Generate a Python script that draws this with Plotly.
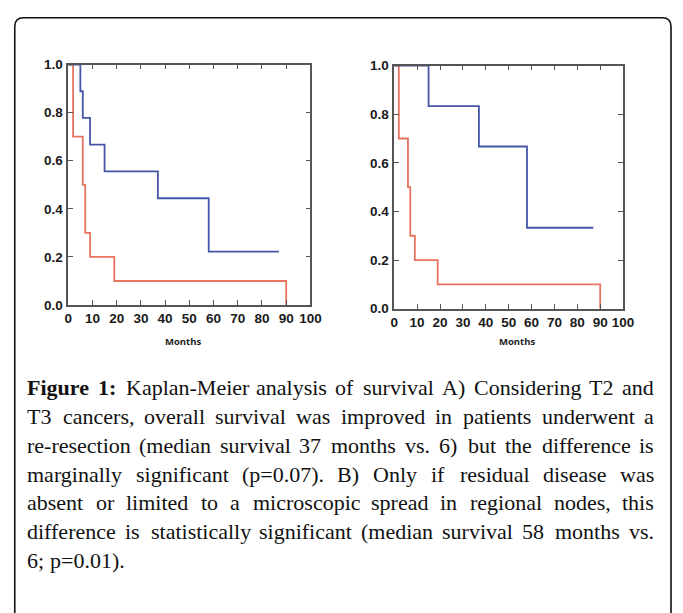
import plotly.graph_objects as go

W, H = 683, 613

# ---------------- data ----------------
months_ticks = [0, 10, 20, 30, 40, 50, 60, 70, 80, 90, 100]
surv_ticks = [0.0, 0.2, 0.4, 0.6, 0.8, 1.0]

# Panel A
a_blue_t = [0, 5, 6, 9, 15, 37, 58, 87]
a_blue_s = [1.0, 0.889, 0.778, 0.667, 0.556, 0.444, 0.222, 0.222]
a_red_t = [0, 2, 6, 7, 9, 19, 90]
a_red_s = [1.0, 0.7, 0.5, 0.3, 0.2, 0.1, 0.0]

# Panel B
b_blue_t = [0, 15, 37, 58, 87]
b_blue_s = [1.0, 0.833, 0.667, 0.333, 0.333]
b_red_t = [0, 2, 6, 7, 9, 19, 90]
b_red_s = [1.0, 0.7, 0.5, 0.3, 0.2, 0.1, 0.0]

x_title = "Months"

caption_lines = [
    "<b>Figure</b> <b>1:</b> Kaplan-Meier analysis of survival A) Considering T2 and",
    "T3 cancers, overall survival was improved in patients underwent a",
    "re-resection (median survival 37 months vs. 6) but the difference is",
    "marginally significant (p=0.07). B) Only if residual disease was",
    "absent or limited to a microscopic spread in regional nodes, this",
    "difference is statistically significant (median survival 58 months vs.",
    "6; p=0.01).",
]

BLUE = "#4656a6"
RED = "#e8735f"
AXC = "#555555"

fig = go.Figure()

def px_x(p):
    return p / W

def px_y(p):
    return 1 - p / H

# panel geometry (pixels)
A_left, A_right, A_top, A_bot = 65.7, 313.3, 59, 305.5
B_left, B_right, B_top, B_bot = 399, 633, 60, 309.3

fig.add_trace(go.Scatter(x=a_red_t, y=a_red_s, mode="lines", line=dict(color=RED, width=1.8, shape="hv"),
                         xaxis="x", yaxis="y", showlegend=False))
fig.add_trace(go.Scatter(x=a_blue_t, y=a_blue_s, mode="lines", line=dict(color=BLUE, width=1.8, shape="hv"),
                         xaxis="x", yaxis="y", showlegend=False))
fig.add_trace(go.Scatter(x=b_red_t, y=b_red_s, mode="lines", line=dict(color=RED, width=1.8, shape="hv"),
                         xaxis="x2", yaxis="y2", showlegend=False))
fig.add_trace(go.Scatter(x=b_blue_t, y=b_blue_s, mode="lines", line=dict(color=BLUE, width=1.8, shape="hv"),
                         xaxis="x2", yaxis="y2", showlegend=False))

tickfont = dict(family="Liberation Sans", size=13.5, color="#1a1a1a", weight="bold")

def xaxis(dom, anchor):
    return dict(domain=dom, anchor=anchor, range=[0, 100], tickvals=months_ticks,
                ticks="inside", ticklen=5, tickwidth=1.3, tickcolor=AXC,
                showline=True, linecolor=AXC, linewidth=1.5, mirror="ticks",
                showgrid=False, zeroline=False, tickfont=tickfont, ticklabelstandoff=0)

def yaxis(dom, anchor):
    return dict(domain=dom, anchor=anchor, range=[0, 1.0], tickvals=surv_ticks, tickformat=".1f",
                ticks="inside", ticklen=5, tickwidth=1.3, tickcolor=AXC,
                showline=True, linecolor=AXC, linewidth=1.5, mirror="ticks",
                showgrid=False, zeroline=False, tickfont=tickfont, ticklabelstandoff=1)

fig.update_layout(
    width=W, height=H,
    margin=dict(l=0, r=0, t=0, b=0),
    paper_bgcolor="white", plot_bgcolor="white",
    xaxis=xaxis([px_x(A_left), px_x(A_right)], "y"),
    yaxis=yaxis([px_y(A_bot), px_y(A_top)], "x"),
    xaxis2=xaxis([px_x(B_left), px_x(B_right)], "y2"),
    yaxis2=yaxis([px_y(B_bot), px_y(B_top)], "x2"),
)

# axis titles
for cx in (183, 525):
    fig.add_annotation(x=px_x(cx), y=px_y(343), xref="paper", yref="paper", text="<b>" + x_title + "</b>",
                       showarrow=False, xanchor="center", yanchor="middle",
                       font=dict(family="Open Sans", size=9.5, color="#222222"))

# outer rounded frame
fx0, fy0, fx1, fy1, r = 11, 11, 682, 640, 9
path = (f"M {px_x(fx0)},{px_y(fy1)} L {px_x(fx0)},{px_y(fy0 + r)} "
        f"Q {px_x(fx0)},{px_y(fy0)} {px_x(fx0 + r)},{px_y(fy0)} "
        f"L {px_x(fx1 - r)},{px_y(fy0)} "
        f"Q {px_x(fx1)},{px_y(fy0)} {px_x(fx1)},{px_y(fy0 + r)} "
        f"L {px_x(fx1)},{px_y(fy1)}")
fig.add_shape(type="path", path=path, xref="paper", yref="paper",
              line=dict(color="#111111", width=1.6))

# ---- justified caption (Times metrics, Liberation Serif is metric-compatible) ----
TW = {' ': 250, 'a': 444, 'b': 500, 'c': 444, 'd': 500, 'e': 444, 'f': 333, 'g': 500, 'h': 500, 'i': 278,
      'j': 278, 'k': 500, 'l': 278, 'm': 778, 'n': 500, 'o': 500, 'p': 500, 'q': 500, 'r': 333, 's': 389,
      't': 278, 'u': 500, 'v': 500, 'w': 722, 'x': 500, 'y': 500, 'z': 444,
      'A': 722, 'B': 667, 'C': 667, 'D': 722, 'E': 611, 'F': 556, 'G': 722, 'H': 722, 'I': 333, 'J': 389,
      'K': 722, 'L': 611, 'M': 889, 'N': 722, 'O': 722, 'P': 556, 'Q': 722, 'R': 667, 'S': 556, 'T': 611,
      'U': 722, 'V': 722, 'W': 944, 'X': 722, 'Y': 722, 'Z': 611,
      '.': 250, ',': 250, ':': 278, ';': 278, '(': 333, ')': 333, '-': 333, '=': 564}
TWB = {'F': 611, 'i': 278, 'g': 500, 'u': 556, 'r': 444, 'e': 444, ':': 333}

def word_width(w, size):
    bold = w.startswith("<b>")
    s = w.replace("<b>", "").replace("</b>", "")
    tot = 0
    for ch in s:
        if ch.isdigit():
            tot += 500
        elif bold:
            tot += TWB.get(ch, TW.get(ch, 500))
        else:
            tot += TW.get(ch, 500)
    return tot * size / 1000

CAP_SIZE = 22
left_px, right_px = 24, 664
base0, lstep = 397, 29.5
for i, line in enumerate(caption_lines):
    words = line.split(" ")
    widths = [word_width(w, CAP_SIZE) for w in words]
    last = i == len(caption_lines) - 1
    if last or len(words) == 1:
        gap = 0.25 * CAP_SIZE
    else:
        gap = (right_px - left_px - sum(widths)) / (len(words) - 1)
    x = left_px
    yc = base0 + lstep * i - 0.3 * CAP_SIZE
    for w, wd in zip(words, widths):
        fig.add_annotation(x=px_x(x), y=px_y(yc), xref="paper", yref="paper", text=w,
                           showarrow=False, xanchor="left", yanchor="middle",
                           borderpad=0, borderwidth=0,
                           font=dict(family="Liberation Serif", size=CAP_SIZE, color="#111111"))
        x += wd + gap

fig.write_html("out.html", config={"displayModeBar": False},
               post_script="document.body.style.margin='0';document.body.style.overflow='hidden';")
